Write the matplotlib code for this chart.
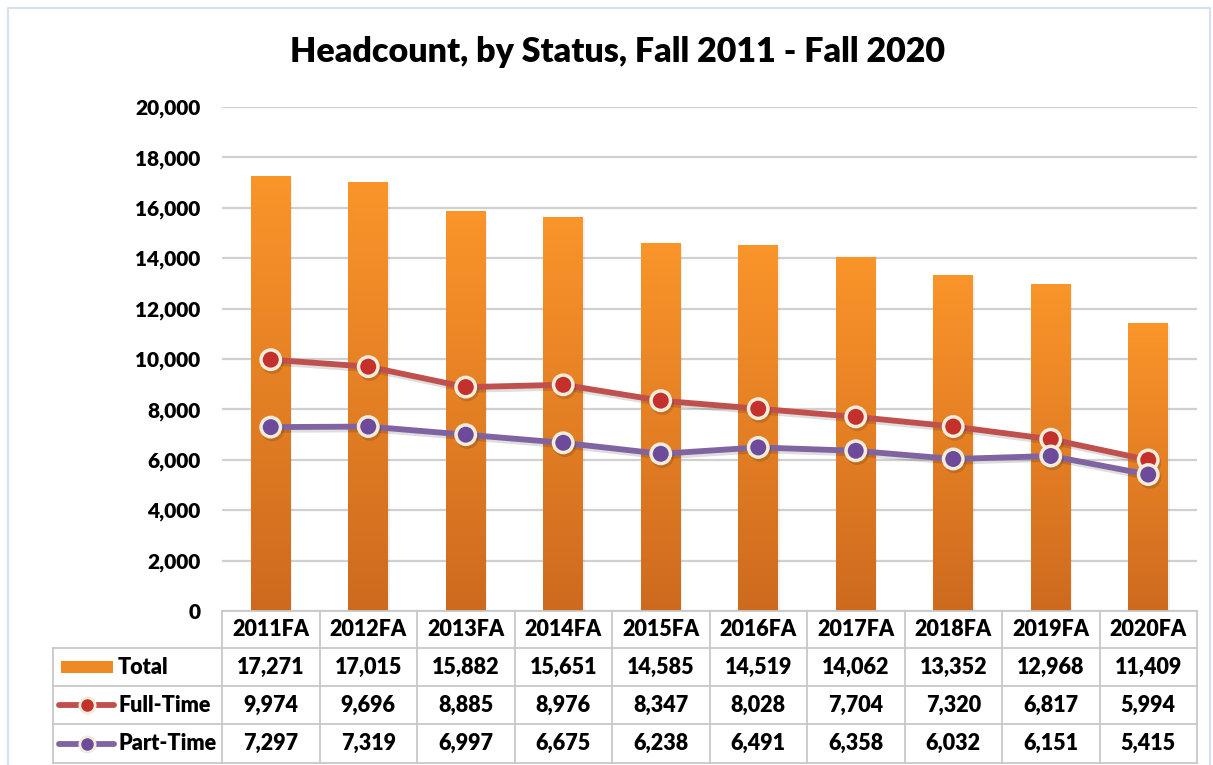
import matplotlib
matplotlib.use("Agg")
import matplotlib.pyplot as plt
import numpy as np
from matplotlib.patches import Rectangle
from matplotlib.lines import Line2D
import matplotlib.patheffects as pe

categories = ["2011FA", "2012FA", "2013FA", "2014FA", "2015FA",
              "2016FA", "2017FA", "2018FA", "2019FA", "2020FA"]
total = [17271, 17015, 15882, 15651, 14585, 14519, 14062, 13352, 12968, 11409]
full_time = [9974, 9696, 8885, 8976, 8347, 8028, 7704, 7320, 6817, 5994]
part_time = [7297, 7319, 6997, 6675, 6238, 6491, 6358, 6032, 6151, 5415]
series_names = ["Total", "Full-Time", "Part-Time"]
yticks = list(range(0, 20001, 2000))

FONT = "Lato"
WT = "heavy"
W, H = 1213, 765
fig = plt.figure(figsize=(W / 100, H / 100), dpi=100)
fig.patch.set_facecolor("white")

def fx(px):
    return px / W

def fy(py):
    return 1 - py / H

# outer border
fig.add_artist(Rectangle((fx(8), fy(770)), fx(1202), 762 / H, transform=fig.transFigure,
                         fill=False, edgecolor="#D5E1F0", lw=1.5))

ax_l, ax_r, ax_t, ax_b = 222, 1197, 107, 611
ax = fig.add_axes([fx(ax_l), fy(ax_b), fx(ax_r - ax_l), (ax_b - ax_t) / H])
x = np.arange(len(categories))
ax.set_xlim(-0.5, len(categories) - 0.5)
ax.set_ylim(0, 20000)
ax.set_yticks(yticks)
ax.set_yticklabels([f"{v:,}" for v in yticks], fontsize=15, fontweight=WT, family=FONT)
ax.tick_params(axis="y", length=0, pad=15.5)
ax.set_xticks([])
for s in ax.spines.values():
    s.set_visible(False)
ax.grid(axis="y", color="#D0D0D0", lw=1.6)
ax.set_axisbelow(True)

# gradient bars
bars = ax.bar(x, total, width=0.41, color="none", zorder=2)
top_c = np.array([250, 149, 42]) / 255
bot_c = np.array([206, 106, 30]) / 255
grad = np.linspace(0, 1, 256)[:, None]
img = top_c[None, None, :] * (1 - grad[..., None]) + bot_c[None, None, :] * grad[..., None]
for b in bars:
    x0 = b.get_x(); w = b.get_width(); h = b.get_height()
    ax.add_patch(Rectangle((x0 + 0.015, 0), w, h - 40, color="#000000", alpha=0.05, zorder=1.5, lw=0))
    im = ax.imshow(img, extent=(x0, x0 + w, 0, h), aspect="auto", zorder=2, origin="upper")
    im.set_clip_path(b)

shadow = [pe.SimpleLineShadow(offset=(1.2, -2), shadow_color="k", alpha=0.13), pe.Normal()]
ax.plot(x, full_time, color="#C0504D", lw=4.2, marker="o", markersize=14,
        markerfacecolor="#C4302B", markeredgecolor="#F2ECDC", markeredgewidth=2.5,
        zorder=4, path_effects=shadow, solid_capstyle="butt")
ax.plot(x, part_time, color="#8064A2", lw=4.2, marker="o", markersize=14,
        markerfacecolor="#6E4B9A", markeredgecolor="#F2ECDC", markeredgewidth=2.5,
        zorder=4, path_effects=shadow, solid_capstyle="butt")

fig.text(fx(617), fy(52), "Headcount, by Status, Fall 2011 - Fall 2020", ha="center", va="center",
         fontsize=24.5, fontweight=WT, family=FONT)

# data table
grid_c = "#C8C8C8"
row_y = [611, 648, 686, 724, 763]
leg_l = 53
col_w = (ax_r - ax_l) / len(categories)
col_x = [ax_l + i * col_w for i in range(len(categories) + 1)]

def hline(y, x0, x1):
    fig.add_artist(Line2D([fx(x0), fx(x1)], [fy(y), fy(y)], color=grid_c, lw=1.3, transform=fig.transFigure))

def vline(xp, y0, y1):
    fig.add_artist(Line2D([fx(xp), fx(xp)], [fy(y0), fy(y1)], color=grid_c, lw=1.3, transform=fig.transFigure))

hline(row_y[0], ax_l, ax_r)
for yy in row_y[1:]:
    hline(yy, leg_l, ax_r)
for xx in col_x:
    vline(xx, row_y[0], row_y[-1])
vline(leg_l, row_y[1], row_y[-1])

tfs = 15.5
for i, c in enumerate(categories):
    cx = (col_x[i] + col_x[i + 1]) / 2
    fig.text(fx(cx), fy((row_y[0] + row_y[1]) / 2), c, ha="center", va="center",
             fontsize=tfs, fontweight=WT, family=FONT)
for r, vals in enumerate([total, full_time, part_time]):
    cy = (row_y[r + 1] + row_y[r + 2]) / 2
    for i, v in enumerate(vals):
        cx = (col_x[i] + col_x[i + 1]) / 2
        fig.text(fx(cx), fy(cy), f"{v:,}", ha="center", va="center",
                 fontsize=tfs, fontweight=WT, family=FONT)
    fig.text(fx(118), fy(cy), series_names[r], ha="left", va="center",
             fontsize=tfs, fontweight=WT, family=FONT)

# legend keys
cy0 = (row_y[1] + row_y[2]) / 2
fig.add_artist(Rectangle((fx(61), fy(cy0 + 6)), fx(52), 12 / H, transform=fig.transFigure,
                         color="#EE8A24", lw=0))
for r, (lc, mc) in enumerate([("#C0504D", "#C4302B"), ("#8064A2", "#6E4B9A")]):
    cy = (row_y[r + 2] + row_y[r + 3]) / 2
    fig.add_artist(Line2D([fx(59), fx(114)], [fy(cy), fy(cy)], color=lc, lw=4.2,
                          transform=fig.transFigure, solid_capstyle="round"))
    fig.add_artist(Line2D([fx(87)], [fy(cy)], color=lc, marker="o", markersize=11,
                          markerfacecolor=mc, markeredgecolor="#F2ECDC", markeredgewidth=2,
                          transform=fig.transFigure))

fig.savefig("out.png", dpi=100)
